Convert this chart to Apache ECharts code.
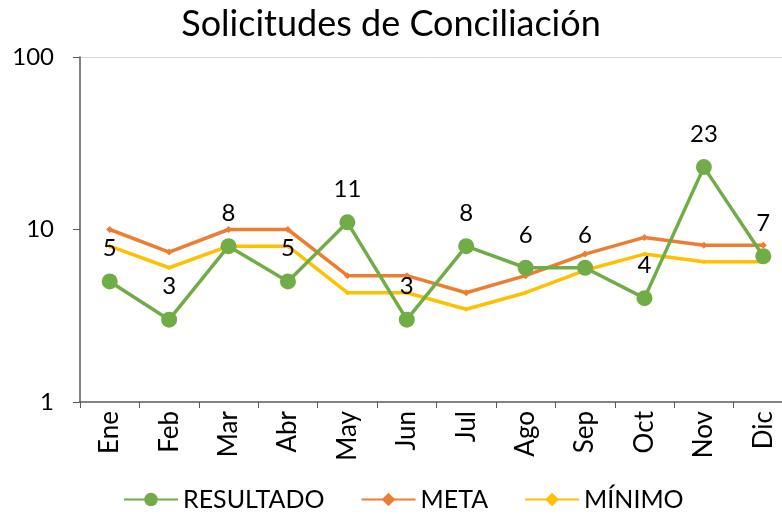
<!DOCTYPE html>
<html>
<head>
<meta charset="utf-8">
<script src="https://cdn.jsdelivr.net/npm/echarts@6/dist/echarts.min.js"></script>
<style>
	html, body { margin: 0; padding: 0; background: #fff; }
	#chart { width: 782px; height: 514px; }
</style>
</head>
<body>
<div id="chart"></div>
<script>
var months = ['Ene', 'Feb', 'Mar', 'Abr', 'May', 'Jun', 'Jul', 'Ago', 'Sep', 'Oct', 'Nov', 'Dic'];
var resultado = [5, 3, 8, 5, 11, 3, 8, 6, 6, 4, 23, 7];
var meta = [10, 7.4, 10, 10, 5.4, 5.4, 4.3, 5.4, 7.2, 9, 8.1, 8.1];
var minimo = [8, 6, 8, 8, 4.3, 4.3, 3.45, 4.3, 5.8, 7.2, 6.5, 6.5];

var font = "'Lato', 'Noto Sans', sans-serif";

var myChart = echarts.init(document.getElementById('chart'));
var option = {
	animation: false,
	color: ['#70AD47', '#ED7D31', '#FFC000'],
	title: {
		text: 'Solicitudes de Conciliación',
		left: 'center',
		top: 1,
		textStyle: { fontFamily: font, fontWeight: 'normal', fontSize: 36, color: '#000' }
	},
	legend: {
		top: 482,
		left: 118,
		itemGap: 36,
		itemWidth: 54,
		itemHeight: 17,
		textStyle: { fontFamily: font, fontSize: 25, color: '#000' },
		data: ['RESULTADO', 'META', 'MÍNIMO']
	},
	// plot runs past the right edge like the original
	grid: { left: 80, width: 713, top: 57, bottom: 112, outerBoundsMode: 'none' },
	xAxis: {
		type: 'category',
		data: months,
		boundaryGap: true,
		axisLine: { lineStyle: { color: '#595959', width: 1.5 } },
		axisTick: { show: true, length: 6, lineStyle: { color: '#595959' } },
		axisLabel: { rotate: 90, fontFamily: font, fontSize: 26, color: '#000', margin: 9 }
	},
	yAxis: {
		type: 'log',
		logBase: 10,
		min: 1,
		max: 100,
		axisLine: { show: true, lineStyle: { color: '#595959', width: 1.5 } },
		axisTick: { show: true, inside: false, length: 7, lineStyle: { color: '#595959' } },
		axisLabel: { fontFamily: font, fontSize: 24, color: '#000', margin: 26 },
		splitLine: { show: true, lineStyle: { color: ['rgba(0,0,0,0)', 'rgba(0,0,0,0)', '#d9d9d9'] } }
	},
	series: [{
		name: 'RESULTADO',
		type: 'line',
		data: resultado,
		symbol: 'circle',
		symbolSize: 16,
		z: 5,
		lineStyle: { width: 3.5 },
		label: { show: true, position: 'top', distance: 13, fontFamily: font, fontSize: 24, color: '#000' }
	}, {
		name: 'META',
		type: 'line',
		data: meta,
		symbol: 'diamond',
		symbolSize: 7,
		lineStyle: { width: 3.5 }
	}, {
		name: 'MÍNIMO',
		type: 'line',
		data: minimo,
		symbol: 'diamond',
		symbolSize: 5,
		lineStyle: { width: 3.5 }
	}]
};
myChart.setOption(option);
</script>
</body>
</html>
